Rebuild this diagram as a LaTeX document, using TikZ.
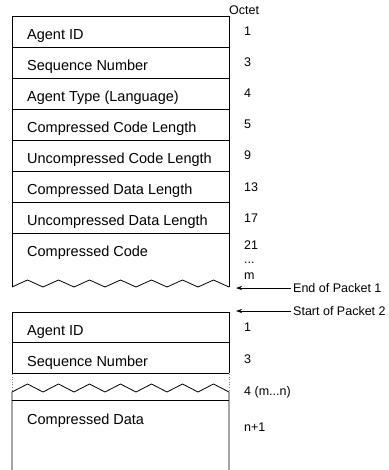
\documentclass[tikz,border=0pt]{standalone}
\usepackage{fontspec}
\setmainfont{Liberation Sans}
\usetikzlibrary{arrows.meta}
\begin{document}
\begin{tikzpicture}[x=1pt,y=-1pt,
  field/.style={anchor=base west,inner sep=0pt,font=\fontsize{14.5}{17}\selectfont},
  octet/.style={anchor=base west,inner sep=0pt,font=\fontsize{12.5}{15}\selectfont},
  marker/.style={anchor=west,inner sep=2pt,font=\fontsize{12.5}{15}\selectfont},
  frame/.style={line width=0.8pt,line join=miter},
  pointer/.style={line width=0.6pt,-{Stealth[length=6pt,width=4pt]}},
  gap/.style={gray,dotted,line width=0.6pt}]
\useasboundingbox (0,0) rectangle (388,470);

% ---- packet 1 ----
\draw[frame] (12,287) -- (12,16) -- (229,16) -- (229,287);
\draw[frame] (12,287) \foreach \k in {0,...,6} { -- ({27.5+31*\k},280) -- ({43+31*\k},287) };
\foreach \y in {47,78,109,140,171,202,233} \draw[frame] (12,\y) -- (229,\y);

\node[field] (a1) at (27,39.5)  {Agent ID};
\node[field] (a2) at (27,70.5)  {Sequence Number};
\node[field] (a3) at (27,101.5) {Agent Type (Language)};
\node[field] (a4) at (27,132.5) {Compressed Code Length};
\node[field] (a5) at (27,163.5) {Uncompressed Code Length};
\node[field] (a6) at (27,194.5) {Compressed Data Length};
\node[field] (a7) at (27,225.5) {Uncompressed Data Length};
\node[field] (a8) at (27,256.5) {Compressed Code};

\node[octet] (oct) at (229,15) {Octet};
\node[octet] (n1)  at (244,36)  {1};
\node[octet] (n3)  at (244,67)  {3};
\node[octet] (n4)  at (244,98)  {4};
\node[octet] (n5)  at (244,129) {5};
\node[octet] (n9)  at (244,160) {9};
\node[octet] (n13) at (244,191) {13};
\node[octet] (n17) at (244,222) {17};
\node[octet] (n21) at (244,249) {21};
\node[octet] (ndots) at (244,263) {...};
\node[octet] (nm)  at (244,279) {m};

% ---- packet boundary markers ----
\node[marker] (endp) at (291,288) {End of Packet 1};
\coordinate (endtip) at (236,288);
\draw[pointer] (endp.west) -- (endtip);
\node[marker] (startp) at (291,311) {Start of Packet 2};
\coordinate (starttip) at (236,311);
\draw[pointer] (startp.west) -- (starttip);

% ---- packet 2 ----
\draw[frame] (12,373) -- (12,312) -- (229,312) -- (229,373);
\draw[frame] (12,342.5) -- (229,342.5);
\draw[frame] (12,373) -- (229,373);
\draw[gap] (12,374) -- (12,391);
\draw[gap] (229,374) -- (229,391);
\draw[frame] (12,470) -- (12,392) \foreach \k in {0,...,6} { -- ({27.5+31*\k},384) -- ({43+31*\k},392) } -- (229,470);
\draw[frame] (12,400) -- (229,400);

\node[field] (b1) at (27,335.5) {Agent ID};
\node[field] (b2) at (27,366)   {Sequence Number};
\node[field] (b3) at (27,424)   {Compressed Data};

\node[octet] (m1) at (244,331) {1};
\node[octet] (m3) at (244,363) {3};
\node[octet] (m4) at (244,395) {4 (m...n)};
\node[octet] (mn) at (244,431) {n+1};
\end{tikzpicture}
\end{document}
